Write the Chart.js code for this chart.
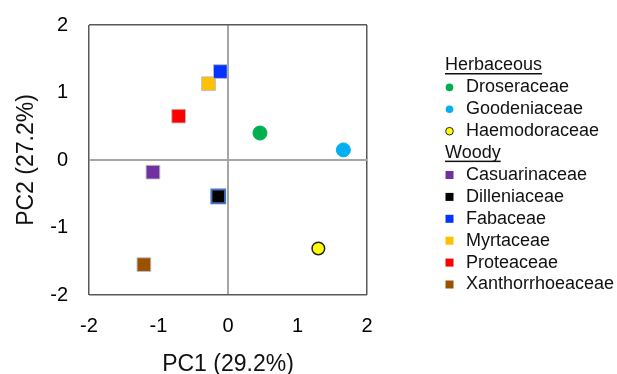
<!DOCTYPE html>
<html lang="en">
<head>
<meta charset="UTF-8">
<title>PCA of plant families</title>
<script src="https://cdn.jsdelivr.net/npm/chart.js"></script>
<style>
  body { margin: 0; background: #fff; }
  #wrap { width: 617px; height: 374px; }
</style>
</head>
<body>
<div id="wrap"><canvas id="pca" width="617" height="374"></canvas></div>
<script>
// data
const families = ['Droseraceae', 'Goodeniaceae', 'Haemodoraceae', 'Casuarinaceae', 'Dilleniaceae',
                  'Fabaceae', 'Myrtaceae', 'Proteaceae', 'Xanthorrhoeaceae'];
const habit = ['Herbaceous', 'Herbaceous', 'Herbaceous', 'Woody', 'Woody',
               'Woody', 'Woody', 'Woody', 'Woody'];
const pc1 = [0.46, 1.66, 1.30, -1.08, -0.14, -0.11, -0.28, -0.71, -1.21];
const pc2 = [0.40, 0.15, -1.31, -0.18, -0.54, 1.31, 1.13, 0.65, -1.55];
const axisTicks = [-2, -1, 0, 1, 2];

const fills = ['#00B050', '#00B0F0', '#FFFF00', '#7030A0', '#000000',
               '#0433FF', '#FFC000', '#FF0000', '#9A5200'];
const FONT = 'Arial, "Liberation Sans", sans-serif';

const datasets = families.map((name, i) => {
    const herb = habit[i] === 'Herbaceous';
    let border = herb ? fills[i] : 'rgba(190,190,190,0.9)';
    let bw = 1;
    if (name === 'Haemodoraceae') { border = '#222'; bw = 1.5; }
    if (name === 'Dilleniaceae') { border = '#4472C4'; bw = 2; }
    return {
        label: name,
        group: habit[i],
        data: [{ x: pc1[i], y: pc2[i] }],
        pointStyle: herb ? 'circle' : 'rect',
        pointRadius: herb ? (name === 'Haemodoraceae' ? 6.3 : 7) : 9.7,
        backgroundColor: fills[i],
        borderColor: border,
        borderWidth: bw
    };
});

function gridColor(ctx) {
    const v = ctx.tick.value;
    if (v === 0) return '#A6A6A6';
    if (Math.abs(v) === 2) return '#595959';
    return 'rgba(0,0,0,0)';
}
function gridWidth(ctx) {
    return ctx.tick.value === 0 ? 2 : 1.5;
}

// grouped legend with underlined headers on the right
const groupLegend = {
    id: 'groupLegend',
    afterDraw(chart) {
        const c = chart.ctx;
        c.save();
        c.font = '18px ' + FONT;
        c.textBaseline = 'middle';
        c.fillStyle = '#111';
        const step = 21.9;
        let y = 65.5;
        let current = null;
        chart.data.datasets.forEach(ds => {
            if (ds.group !== current) {
                current = ds.group;
                c.fillStyle = '#111';
                c.fillText(current, 445, y);
                const w = c.measureText(current).width;
                c.fillRect(445, y + 7.5, w, 1.5);
                y += step;
            }
            c.fillStyle = ds.backgroundColor;
            c.strokeStyle = ds.borderColor;
            if (ds.pointStyle === 'circle') {
                c.beginPath();
                c.arc(449.5, y, 3.8, 0, Math.PI * 2);
                c.fill();
                if (ds.label === 'Haemodoraceae') { c.lineWidth = 1; c.stroke(); }
            } else {
                c.fillRect(445.5, y - 4, 8, 8);
            }
            c.fillStyle = '#111';
            c.fillText(ds.label, 466, y);
            y += step;
        });
        c.restore();
    }
};

new Chart(document.getElementById('pca'), {
    type: 'scatter',
    data: { datasets: datasets },
    plugins: [groupLegend],
    options: {
        responsive: false,
        animation: false,
        layout: { padding: { left: 0, right: 250, top: 25, bottom: 0 } },
        plugins: { legend: { display: false }, tooltip: { enabled: false } },
        scales: {
            x: {
                min: -2, max: 2,
                afterBuildTicks: s => { s.ticks = axisTicks.map(v => ({ value: v })); },
                afterFit: s => { s.height = 79; },
                grid: { color: gridColor, lineWidth: gridWidth, drawTicks: false },
                border: { display: false },
                ticks: { color: '#000', padding: 19, font: { family: FONT, size: 20 } },
                title: { display: true, text: 'PC1 (29.2%)', color: '#111',
                         font: { family: FONT, size: 23, lineHeight: 0.85 }, padding: { top: 0, bottom: 0 } }
            },
            y: {
                min: -2, max: 2,
                afterBuildTicks: s => { s.ticks = axisTicks.map(v => ({ value: v })); },
                afterFit: s => { s.width = 89; s.paddingTop = 0; s.paddingBottom = 0; },
                grid: { color: gridColor, lineWidth: gridWidth, drawTicks: false },
                border: { display: false },
                ticks: { color: '#000', padding: 21, font: { family: FONT, size: 20 } },
                title: { display: true, text: 'PC2 (27.2%)', color: '#111',
                         font: { family: FONT, size: 23, lineHeight: 1 }, padding: { top: 15, bottom: 0 } }
            }
        }
    }
});
</script>
</body>
</html>
